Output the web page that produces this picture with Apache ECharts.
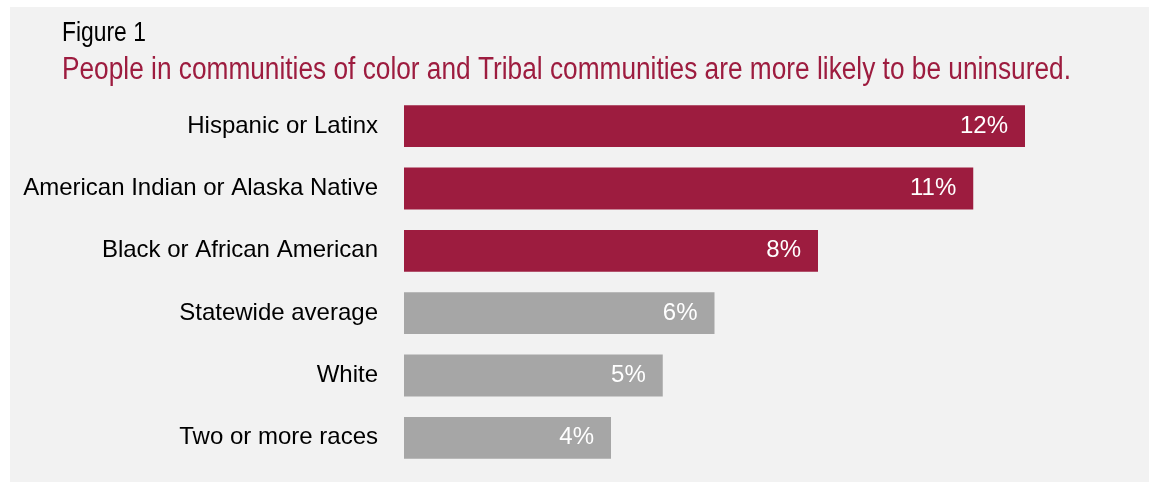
<!DOCTYPE html>
<html>
<head>
<meta charset="utf-8">
<script src="https://cdn.jsdelivr.net/npm/echarts@6/dist/echarts.min.js"></script>
<style>
  html, body { margin: 0; padding: 0; background: #fff; }
  #chart { width: 1149px; height: 483px; }
</style>
</head>
<body>
<div id="chart"></div>
<script>
  // data
  const categories = [
    'Hispanic or Latinx',
    'American Indian or Alaska Native',
    'Black or African American',
    'Statewide average',
    'White',
    'Two or more races'
  ];
  const uninsured = [12, 11, 8, 6, 5, 4];
  const highlighted = ['Hispanic or Latinx', 'American Indian or Alaska Native', 'Black or African American'];

  // no narrow font installed, so the titles get squeezed by hand
  const FONT = "'Liberation Sans', Arial, sans-serif";
  const NARROW = 0.847;
  const RED = '#9d1c3f';
  const GREY = '#a6a6a6';

  var myChart = echarts.init(document.getElementById('chart'));
  myChart.setOption({
    animation: false,
    backgroundColor: '#fff',
    graphic: [
      {
        type: 'rect',
        shape: { x: 10, y: 7, width: 1139, height: 475 },
        style: { fill: '#f2f2f2' },
        z: -10
      },
      {
        type: 'text',
        x: 62,
        y: 20,
        scaleX: NARROW,
        style: { text: 'Figure 1', fontFamily: FONT, fontSize: 27, fill: '#000', verticalAlign: 'top' }
      },
      {
        type: 'text',
        x: 62,
        y: 55,
        scaleX: NARROW,
        style: {
          text: 'People in communities of color and Tribal communities are more likely to be uninsured.',
          fontFamily: FONT,
          fontSize: 31,
          fill: RED,
          verticalAlign: 'top'
        }
      }
    ],
    grid: { left: 404, right: 124, top: 95, height: 374, containLabel: false, outerBoundsMode: 'none' },
    xAxis: {
      type: 'value',
      min: 0,
      max: 12,
      show: false
    },
    yAxis: {
      type: 'category',
      data: categories,
      inverse: true,
      axisLine: { show: false },
      axisTick: { show: false },
      axisLabel: { fontFamily: FONT, fontSize: 24, color: '#000', margin: 26 }
    },
    series: [
      {
        type: 'bar',
        data: uninsured,
        barCategoryGap: '33%',
        itemStyle: {
          color: function (p) {
            return highlighted.indexOf(p.name) >= 0 ? RED : GREY;
          }
        },
        label: {
          show: true,
          position: 'insideRight',
          distance: 17,
          formatter: '{c}%',
          fontFamily: FONT,
          fontSize: 24,
          color: '#fff'
        }
      }
    ]
  });
</script>
</body>
</html>
